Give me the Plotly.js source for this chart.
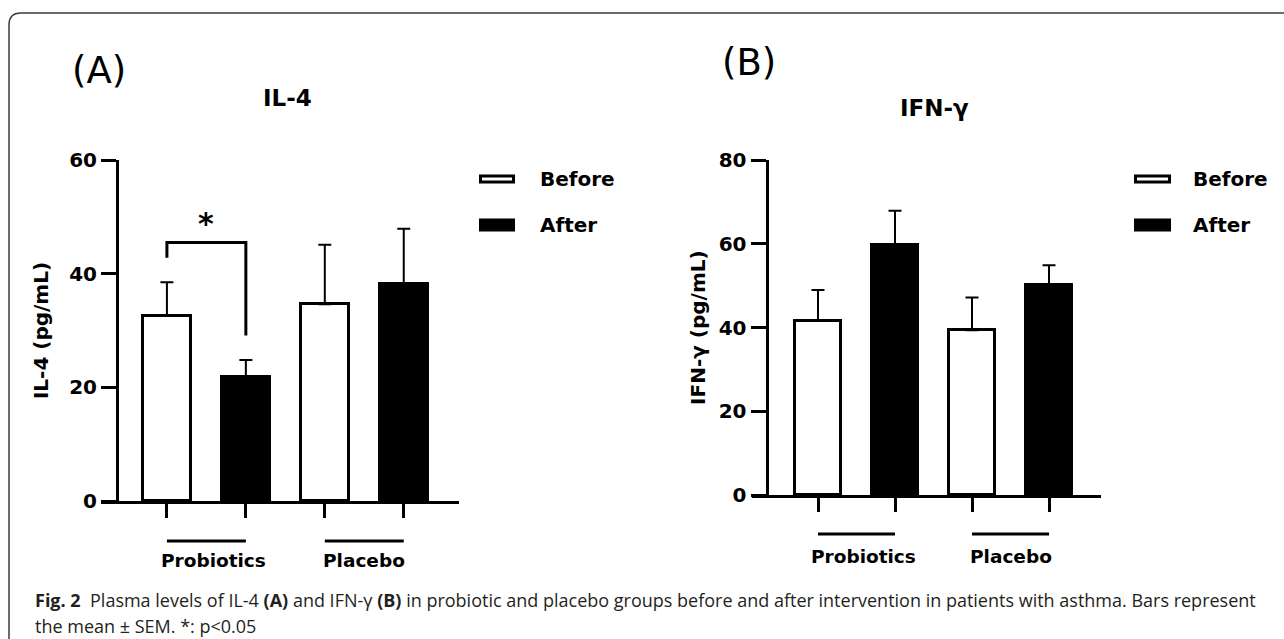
<!DOCTYPE html>
<html>
<head>
<meta charset="utf-8">
<script src="https://cdn.plot.ly/plotly-3.0.1.min.js"></script>
<style>
  html, body { margin: 0; padding: 0; background: #ffffff; }
  #chart { width: 1284px; height: 639px; }
</style>
</head>
<body>
<div id="chart"></div>
<script>
// ---------------- data ----------------
const groups = ["Probiotics", "Placebo"];
const seriesNames = ["Before", "After"];

const il4Before = [32.6, 34.6];
const il4BeforeSem = [5.9, 10.5];
const il4After = [21.8, 38.1];
const il4AfterSem = [3.0, 9.8];

const ifnBefore = [41.6, 39.4];
const ifnBeforeSem = [7.4, 7.8];
const ifnAfter = [59.7, 50.1];
const ifnAfterSem = [8.2, 4.8];

const il4Ticks = [0, 20, 40, 60];
const ifnTicks = [0, 20, 40, 60, 80];

const panelLetters = ["(A)", "(B)"];
const panelTitles = ["IL-4", "IFN-γ"];
const yTitles = ["IL-4 (pg/mL)", "IFN-γ (pg/mL)"];
const sigLabel = "*";
const captionLine1 = "<b>Fig. 2</b>  Plasma levels of IL-4 <b>(A)</b> and IFN-γ <b>(B)</b> in probiotic and placebo groups before and after intervention in patients with asthma. Bars represent";
const captionLine2 = "the mean ± SEM. *: p<0.05";

// ---------------- layout helpers ----------------
const W = 1284, H = 639;
const px = v => v / W;
const py = v => 1 - v / H;
const FONT = "DejaVu Sans";
const seriesFill = ["#ffffff", "#000000"];

// bar position = group index * 2 + series index
const pos = (gi, si) => gi * 2 + si;
const allPos = [];
groups.forEach((g, gi) => seriesNames.forEach((s, si) => allPos.push(pos(gi, si))));

function barTrace(si, vals, sems, xa, ya, width) {
  return {
    type: "bar",
    name: seriesNames[si],
    x: vals.map((v, gi) => pos(gi, si)),
    y: vals,
    xaxis: xa, yaxis: ya,
    width: width,
    showlegend: false,
    marker: { color: seriesFill[si], line: { color: "#000", width: 3 } },
    error_y: { type: "data", symmetric: false, array: sems, arrayminus: sems.map(() => 0),
               color: "#000", thickness: 2, width: 6.5 },
    hoverinfo: "y"
  };
}

const data = [
  barTrace(0, il4Before, il4BeforeSem, "x", "y", 0.61),
  barTrace(1, il4After, il4AfterSem, "x", "y", 0.61),
  barTrace(0, ifnBefore, ifnBeforeSem, "x2", "y2", 0.6),
  barTrace(1, ifnAfter, ifnAfterSem, "x2", "y2", 0.6)
];

function xAxis(d0, d1, r, anchor) {
  return {
    domain: [px(d0), px(d1)], range: r, anchor: anchor,
    showline: true, linecolor: "#000", linewidth: 3,
    ticks: "outside", ticklen: 14, tickwidth: 3, tickcolor: "#000",
    tickmode: "array", tickvals: allPos, showticklabels: false,
    showgrid: false, zeroline: false, fixedrange: true
  };
}
function yAxis(top, bottom, pos0, r, tv, title, standoff) {
  return {
    domain: [py(bottom), py(top)], range: r, anchor: "free", position: px(pos0),
    showline: true, linecolor: "#000", linewidth: 3,
    ticks: "outside", ticklen: 15, tickwidth: 3, tickcolor: "#000",
    tickmode: "array", tickvals: tv,
    tickfont: { family: FONT, size: 20, color: "#000", weight: "bold" },
    title: { text: title, font: { family: FONT, size: 20, color: "#000", weight: "bold" }, standoff: standoff },
    showgrid: false, zeroline: false, fixedrange: true
  };
}

const shapes = [];
const annotations = [];

// frame (rounded top-left corner)
const fx = px(9), fy = py(13), rx = 12 / W, ry = 12 / H;
shapes.push({
  type: "path", xref: "paper", yref: "paper",
  path: `M ${fx},-0.2 L ${fx},${fy - ry} Q ${fx},${fy} ${fx + rx},${fy} L 1.2,${fy}`,
  line: { color: "#3a3a3a", width: 1.5 }
});

// panel specific decorations
const panels = [
  { xa: "x", ya: "y", letter: [99, 70], title: [287, 98], lineY: 541, labY: 560,
    legBox: [479, 515], legText: 538 },
  { xa: "x2", ya: "y2", letter: [749, 63], title: [934, 108], lineY: 534, labY: 556,
    legBox: [1134, 1171], legText: 1191 }
];

panels.forEach((p, i) => {
  annotations.push({ xref: "paper", yref: "paper", x: px(p.letter[0]), y: py(p.letter[1]),
    xanchor: "center", yanchor: "middle", showarrow: false, text: panelLetters[i],
    font: { family: FONT, size: 37, color: "#000" } });
  annotations.push({ xref: "paper", yref: "paper", x: px(p.title[0]), y: py(p.title[1]),
    xanchor: "center", yanchor: "middle", showarrow: false, text: panelTitles[i],
    font: { family: FONT, size: 23, color: "#000", weight: "bold" } });
  // group lines + labels
  groups.forEach((g, gi) => {
    shapes.push({ type: "line", xref: p.xa, yref: "paper",
      x0: pos(gi, 0), x1: pos(gi, seriesNames.length - 1), y0: py(p.lineY), y1: py(p.lineY),
      line: { color: "#000", width: 3.2 } });
    annotations.push({ xref: p.xa, yref: "paper", x: (pos(gi, 0) + pos(gi, 1)) / 2, y: py(p.labY),
      xanchor: "center", yanchor: "middle", showarrow: false, text: g, xshift: gi === 0 ? 7 : 0,
      font: { family: FONT, size: 18.5, color: "#000", weight: "bold" } });
  });
  // legend
  const legY = [[174.5, 183.5], [218.5, 231.5]];
  seriesNames.forEach((s, si) => {
    shapes.push({ type: "rect", xref: "paper", yref: "paper",
      x0: px(p.legBox[0] + 1.5), x1: px(p.legBox[1] - 1.5), y0: py(legY[si][0] + 1.5), y1: py(legY[si][1] - 1.5),
      fillcolor: seriesFill[si], line: { color: "#000", width: 3 } });
    annotations.push({ xref: "paper", yref: "paper", x: px(p.legText), y: py((legY[si][0] + legY[si][1]) / 2),
      xanchor: "left", yanchor: "middle", showarrow: false, text: s,
      font: { family: FONT, size: 20, color: "#000", weight: "bold" } });
  });
});

// significance bracket for IL-4 probiotics (before vs after)
const gap = 4.3, bracketTop = 45.5;
const leftTop = il4Before[0] + il4BeforeSem[0] + gap;
const rightTop = il4After[0] + il4AfterSem[0] + gap;
shapes.push({ type: "path", xref: "x", yref: "y",
  path: `M ${pos(0,0)},${leftTop} L ${pos(0,0)},${bracketTop} L ${pos(0,1)},${bracketTop} L ${pos(0,1)},${rightTop}`,
  line: { color: "#000", width: 3 } });
annotations.push({ xref: "x", yref: "y", x: (pos(0,0) + pos(0,1)) / 2, y: bracketTop,
  xanchor: "center", yanchor: "bottom", yshift: -1, showarrow: false, text: sigLabel,
  font: { family: FONT, size: 30, color: "#000", weight: "bold" } });

// caption
annotations.push({ xref: "paper", yref: "paper", x: px(33), y: py(600), xanchor: "left", yanchor: "middle",
  showarrow: false, text: captionLine1, font: { family: "Open Sans", size: 18, color: "#231f20" } });
annotations.push({ xref: "paper", yref: "paper", x: px(33), y: py(626), xanchor: "left", yanchor: "middle",
  showarrow: false, text: captionLine2, font: { family: "Open Sans", size: 18, color: "#231f20" } });

const layout = {
  width: W, height: H,
  margin: { l: 0, r: 0, t: 0, b: 0 },
  paper_bgcolor: "#ffffff", plot_bgcolor: "rgba(0,0,0,0)",
  showlegend: false,
  bargap: 0,
  xaxis: xAxis(101, 459, [-0.835, 3.70], "y"),
  yaxis: yAxis(160, 501, 117, [0, 60], il4Ticks, yTitles[0], 14),
  xaxis2: xAxis(752, 1101, [-0.857, 3.675], "y2"),
  yaxis2: yAxis(160, 495.3, 766.5, [0, 80], ifnTicks, yTitles[1], 6),
  shapes: shapes,
  annotations: annotations
};

Plotly.newPlot("chart", data, layout, { displayModeBar: false, staticPlot: false });
</script>
</body>
</html>
